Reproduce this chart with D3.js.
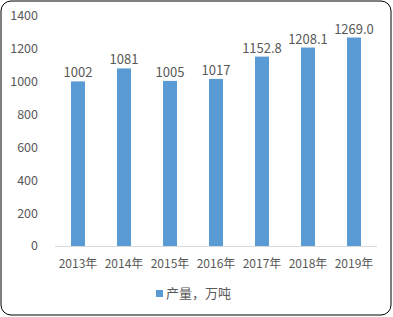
<!DOCTYPE html>
<html>
<head>
<meta charset="utf-8">
<script src="https://cdn.jsdelivr.net/npm/d3@7"></script>
<style>
  body { margin: 0; background: #fff; }
  svg text { font-family: "Noto Sans CJK SC", "Noto Sans", sans-serif; fill: #595959; }
</style>
</head>
<body>
<svg id="chart" width="393" height="317"></svg>
<script>
var years = ["2013年", "2014年", "2015年", "2016年", "2017年", "2018年", "2019年"];
var output = [1002, 1081, 1005, 1017, 1152.8, 1208.1, 1269.0];
var valueLabels = ["1002", "1081", "1005", "1017", "1152.8", "1208.1", "1269.0"];
var yTicks = [0, 200, 400, 600, 800, 1000, 1200, 1400];
var seriesName = "产量，万吨";

var svg = d3.select("#chart");

// outer frame
svg.append("rect")
  .attr("x", 1).attr("y", 1)
  .attr("width", 390).attr("height", 314)
  .attr("rx", 10).attr("ry", 10)
  .attr("fill", "#fff")
  .attr("stroke", "#000")
  .attr("stroke-width", 1);

var x = d3.scaleBand().domain(years).range([55, 377]).paddingInner(0).paddingOuter(0);
var y = d3.scaleLinear().domain([0, 1400]).range([246, 16]);

// y axis labels
svg.append("g")
  .selectAll("text")
  .data(yTicks)
  .enter().append("text")
  .attr("x", 38)
  .attr("y", function (d) { return y(d); })
  .attr("dy", "0.35em")
  .attr("text-anchor", "end")
  .attr("font-size", 12.5)
  .text(function (d) { return d; });

// baseline
svg.append("line")
  .attr("x1", 55).attr("x2", 377)
  .attr("y1", y(0) + 0.5).attr("y2", y(0) + 0.5)
  .attr("stroke", "#d9d9d9");

var barW = 14;
svg.append("g")
  .selectAll("rect")
  .data(output)
  .enter().append("rect")
  .attr("x", function (d, i) { return x(years[i]) + x.bandwidth() / 2 - barW / 2; })
  .attr("y", function (d) { return y(d); })
  .attr("width", barW)
  .attr("height", function (d) { return y(0) - y(d); })
  .attr("fill", "#5b9bd5");

// value labels
svg.append("g")
  .selectAll("text")
  .data(output)
  .enter().append("text")
  .attr("x", function (d, i) { return x(years[i]) + x.bandwidth() / 2; })
  .attr("y", function (d) { return y(d) - 4; })
  .attr("text-anchor", "middle")
  .attr("font-size", 13)
  .attr("fill", "#404040")
  .text(function (d, i) { return valueLabels[i]; });

// x labels
svg.append("g")
  .selectAll("text")
  .data(years)
  .enter().append("text")
  .attr("x", function (d) { return x(d) + x.bandwidth() / 2; })
  .attr("y", 264)
  .attr("dy", "0.35em")
  .attr("text-anchor", "middle")
  .attr("font-size", 12)
  .text(function (d) { return d; });

// legend
var lg = svg.append("g");
lg.append("rect")
  .attr("x", 156).attr("y", 290)
  .attr("width", 7).attr("height", 7)
  .attr("fill", "#5b9bd5");
lg.append("text")
  .attr("x", 166).attr("y", 293.5)
  .attr("dy", "0.35em")
  .attr("font-size", 13)
  .text(seriesName);
</script>
</body>
</html>
